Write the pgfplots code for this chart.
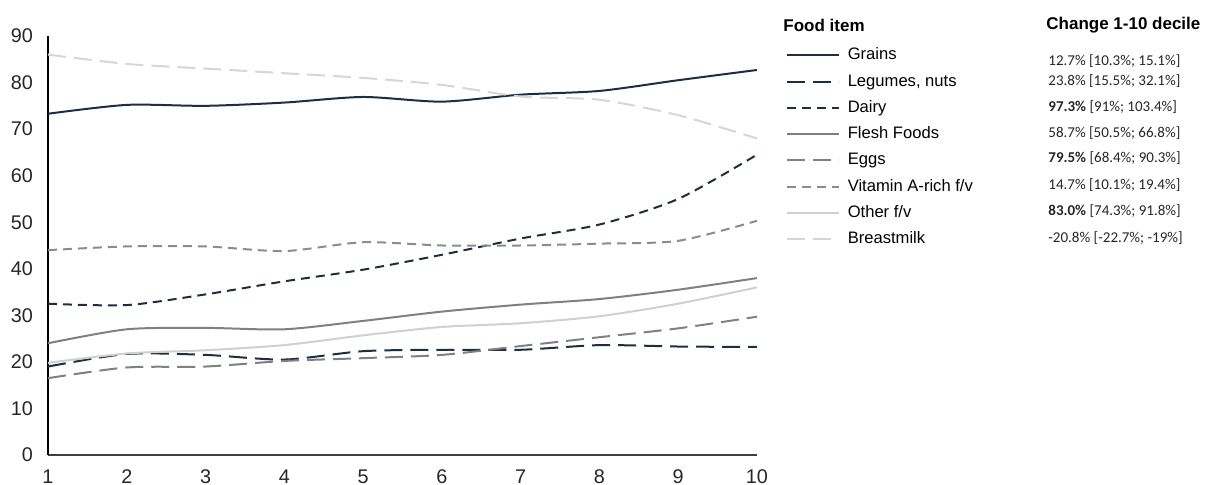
\documentclass[border=0pt]{standalone}
\usepackage{pgfplots}
\pgfplotsset{compat=1.18}
\usepackage{fontspec}
\setmainfont{Liberation Sans}
\newfontfamily\calibri{Carlito}
\definecolor{navy}{HTML}{1C2E40}
\definecolor{midgray}{HTML}{808080}
\definecolor{vitgray}{HTML}{8C8C8C}
\definecolor{lightgray1}{HTML}{D0D0D0}
\definecolor{lightgray2}{HTML}{D6D6D6}
\definecolor{tickcol}{HTML}{262626}
\begin{document}
\begin{tikzpicture}
\begin{axis}[
  name=ax,
  scale only axis,
  width=354.5pt, height=209.5pt,
  xmin=1, xmax=10, ymin=0, ymax=90,
  xtick={1,...,10}, ytick={0,10,...,90},
  axis x line=bottom, axis y line=left,
  axis line style={-},
  x axis line style={draw=black!75, line width=0.8pt},
  y axis line style={draw=black, line width=0.8pt},
  major tick length=0pt,
  /pgf/number format/assume math mode=true,
  xticklabel style={font=\fontsize{9.9}{11}\selectfont, text=tickcol, yshift=-3.5pt},
  yticklabel style={font=\fontsize{9.9}{11}\selectfont, text=tickcol, xshift=-3.7pt},
  line width=1pt,
  every axis plot/.append style={smooth, tension=0.45},
  legend image code/.code={\draw[#1, sharp plot] (0pt,0pt) -- (26pt,0pt);},
  legend cell align=left,
  legend style={at={([xshift=-4pt,yshift=-1pt]axis description cs:1.042,0.99)}, anchor=north west,
    draw=none, fill=none, font=\fontsize{8.3}{10}\selectfont,
    nodes={inner sep=0pt, text height=6.3pt, text depth=1.8pt},
    row sep=5.05pt,
    /tikz/every odd column/.append style={column sep=4pt}},
  clip=false,
]
\addplot[navy] coordinates {(1,73.3)(2,75.2)(3,75.0)(4,75.7)(5,76.9)(6,75.9)(7,77.4)(8,78.2)(9,80.5)(10,82.7)};
\addlegendentry{Grains}
\addplot[navy, dash pattern=on 9pt off 4pt] coordinates {(1,19.0)(2,21.7)(3,21.5)(4,20.5)(5,22.3)(6,22.6)(7,22.6)(8,23.6)(9,23.3)(10,23.2)};
\addlegendentry{Legumes, nuts}
\addplot[navy, dash pattern=on 4.5pt off 3pt] coordinates {(1,32.5)(2,32.2)(3,34.5)(4,37.3)(5,39.8)(6,43.0)(7,46.5)(8,49.5)(9,55.0)(10,64.5)};
\addlegendentry{Dairy}
\addplot[midgray] coordinates {(1,24.0)(2,27.0)(3,27.3)(4,27.0)(5,28.8)(6,30.8)(7,32.3)(8,33.5)(9,35.5)(10,38.0)};
\addlegendentry{Flesh Foods}
\addplot[midgray, dash pattern=on 9pt off 4pt] coordinates {(1,16.5)(2,18.8)(3,19.0)(4,20.2)(5,20.8)(6,21.5)(7,23.4)(8,25.3)(9,27.2)(10,29.7)};
\addlegendentry{Eggs}
\addplot[vitgray, dash pattern=on 4.5pt off 3pt] coordinates {(1,44.0)(2,44.8)(3,44.8)(4,43.8)(5,45.7)(6,45.0)(7,45.0)(8,45.4)(9,46.0)(10,50.3)};
\addlegendentry{Vitamin A-rich f/v}
\addplot[lightgray1] coordinates {(1,19.8)(2,21.8)(3,22.5)(4,23.6)(5,25.7)(6,27.5)(7,28.3)(8,29.8)(9,32.5)(10,36.0)};
\addlegendentry{Other f/v}
\addplot[lightgray2, dash pattern=on 9pt off 4pt] coordinates {(1,86.0)(2,84.0)(3,83.0)(4,82.0)(5,81.0)(6,79.5)(7,77.0)(8,76.3)(9,73.0)(10,68.0)};
\addlegendentry{Breastmilk}
\end{axis}
\node[anchor=west, inner sep=0pt, font=\bfseries\fontsize{8.5}{10}\selectfont] at ([xshift=367.5pt,yshift=215pt]ax.south west) {Food item};
\node[anchor=west, inner sep=0pt, font=\bfseries\fontsize{8.5}{10}\selectfont] at ([xshift=499pt,yshift=215pt]ax.south west) {Change 1-10 decile};
\begin{scope}[every node/.style={anchor=west, inner sep=0pt, font=\calibri\fontsize{7.5}{9}\selectfont, text=tickcol}]
\node at ([xshift=500pt,yshift=197pt]ax.south west) {12.7\% [10.3\%; 15.1\%]};
\node at ([xshift=500pt,yshift=187pt]ax.south west) {23.8\% [15.5\%; 32.1\%]};
\node at ([xshift=500pt,yshift=174pt]ax.south west) {\textbf{97.3\%} [91\%; 103.4\%]};
\node at ([xshift=500pt,yshift=161pt]ax.south west) {58.7\% [50.5\%; 66.8\%]};
\node at ([xshift=500pt,yshift=148.5pt]ax.south west) {\textbf{79.5\%} [68.4\%; 90.3\%]};
\node at ([xshift=500pt,yshift=135pt]ax.south west) {14.7\% [10.1\%; 19.4\%]};
\node at ([xshift=500pt,yshift=122pt]ax.south west) {\textbf{83.0\%} [74.3\%; 91.8\%]};
\node at ([xshift=500pt,yshift=108.5pt]ax.south west) {-20.8\% [-22.7\%; -19\%]};
\end{scope}
\pgfresetboundingbox
\path[use as bounding box] ([xshift=-24pt,yshift=-15pt]ax.south west) rectangle ([xshift=579pt,yshift=227.5pt]ax.south west);
\end{tikzpicture}
\end{document}
